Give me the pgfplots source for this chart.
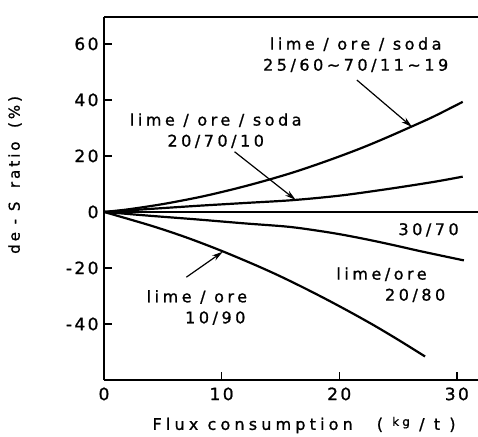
\documentclass[border=0pt]{standalone}
\usepackage{fontspec}
\setmainfont{DejaVu Sans}[LetterSpace=22, FakeBold=1.0]
\usepackage{pgfplots}
\pgfplotsset{compat=1.18}
\usetikzlibrary{arrows.meta}

% flux consumption (kg/t) vs de-S ratio (%)
\pgfplotstableread{
x y
0 0
2 0.9
5 2.8
8 5.2
10 7.1
12 9.2
14 11.5
16 14.0
18 16.8
20 19.8
22 23.0
24 26.5
26 30.2
28 34.0
30.5 39.3
}\soda

\pgfplotstableread{
x y
0 0
4 1.1
8 2.2
12 3.2
16 4.2
20 5.8
24 8.1
28 10.7
30.5 12.6
}\sodaten

\pgfplotstableread{
x y
0 0
10 0
20 0
32 0
}\thirty

\pgfplotstableread{
x y
0 0
4 -1.4
7.7 -2.6
12 -4.1
15.7 -5.3
18.5 -6.9
20.5 -8.3
22.8 -10.2
25 -12.2
27 -14.1
30.6 -17.3
}\twenty

\pgfplotstableread{
x y
0 0
4 -4.9
7 -9.1
10 -13.9
13 -19.2
15 -23.0
17 -27.1
19 -31.4
21 -35.9
23 -40.6
25 -45.6
27.3 -51.6
}\ten

\begin{document}
\fontsize{16bp}{19bp}\selectfont
\begin{tikzpicture}
\begin{axis}[
  at={(0,0)}, anchor=south west,
  scale only axis, width=374bp, height=363bp,
  xmin=0, xmax=31.8, ymin=-60, ymax=69.6,
  axis x line*=bottom, axis y line*=left,
  axis line style={line width=1.6bp},
  xtick={0,10,20,30}, ytick={-40,-20,0,20,40,60},
  tick style={line width=1.4bp, black},
  major tick length=8bp,
  tick align=inside,
  /pgf/number format/assume math mode=true,
  ticklabel style={font=\fontsize{17bp}{20bp}\selectfont\addfontfeatures{LetterSpace=14}},
  xticklabel style={yshift=-2bp},
  yticklabel style={xshift=0bp},
  xlabel={Flux consumption\hspace{1.5em}( \raisebox{0.45ex}{\fontsize{12bp}{12bp}\selectfont kg} / t )},
  xlabel style={at={(axis description cs:0.535,-0.124)}, anchor=center,
    font=\fontsize{16bp}{19bp}\selectfont\addfontfeatures{LetterSpace=26}},
  ylabel={de - S\hspace{0.9em}ratio\hspace{0.9em}(\%)},
  ylabel style={at={(axis description cs:-0.238,0.565)}, anchor=center, rotate=0,
    font=\fontsize{15bp}{18bp}\selectfont\addfontfeatures{LetterSpace=20}},
  cycle list={{black}},
  every axis plot/.append style={line width=2.2bp, black, no markers, smooth},
  extra description/.code={\draw[line width=1.6bp] (0,1) -- (1.01,1);},
]
\addplot table {\soda};
\addplot table {\sodaten};
\addplot table {\thirty};
\addplot table {\twenty};
\addplot table {\ten};

\draw[-{Stealth[length=11bp,width=6bp]}, line width=1.2bp] (axis cs:21.5,47.1) -- (axis cs:26.2,30.3);
\draw[-{Stealth[length=11bp,width=6bp]}, line width=1.2bp] (axis cs:11.1,21.5) -- (axis cs:16.3,4.3);
\draw[-{Stealth[length=11bp,width=6bp]}, line width=1.2bp] (axis cs:7.0,-23.3) -- (axis cs:10.1,-14.2);

\node[align=center, inner sep=0] at (axis cs:21.4,56.1) {lime / ore / soda\\[2bp]25/60\char"7E 70/11\char"7E 19};
\node[align=center, inner sep=0] at (axis cs:9.5,29.0) {lime / ore / soda\\[2bp]20/70/10};
\node[inner sep=0] at (axis cs:27.6,-6.4) {30/70};
\node[align=center, inner sep=0] at (axis cs:23.6,-26.0) {lime/ore\\[2bp]\hspace*{4.2em}20/80};
\node[align=center, inner sep=0] at (axis cs:7.9,-34.1) {lime / ore\\[2bp]\hspace*{2.3em}10/90};
\end{axis}
\pgfresetboundingbox
\useasboundingbox (-104bp,-57bp) rectangle (374bp,380bp);
\end{tikzpicture}
\end{document}
